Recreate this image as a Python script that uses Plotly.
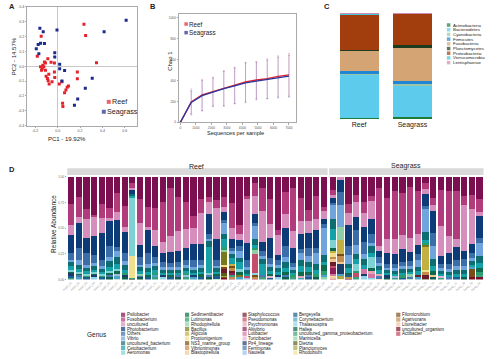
import plotly.graph_objects as go

W, H = 500, 359
def PX(x): return x / W
def PY(y): return 1 - y / H

FONT = "Liberation Sans, Arial, sans-serif"
TXT = "#222222"
RED = "#e3232b"
NAVY = "#1c2a8c"

# ---------------- Panel A: PCoA ----------------
reef_pc1 = [0.235, 0.25, -0.147, -0.182, -0.088, -0.118, -0.059, -0.029, -0.153, -0.138, -0.144,
            -0.124, -0.109, -0.103, -0.091, -0.085, -0.076, -0.05, -0.029, -0.026, 0.015, 0.038,
            0.085, 0.097, 0.074, 0.062, 0.044, 0.047, 0.176, 0.176, 0.347, -0.132, -0.109, -0.079]
reef_pc2 = [0.284, 0.207, 0.202, 0.067, 0.051, 0.029, 0.027, 0.022, -0.004, -0.016, -0.027,
            -0.004, -0.027, -0.067, -0.082, -0.098, -0.12, -0.104, -0.038, -0.076, -0.12, -0.104,
            -0.142, -0.133, -0.16, -0.178, -0.249, -0.271, -0.038, -0.084, 0.024, 0.007, 0.022, -0.053]
sea_pc1 = [-0.159, -0.129, -0.006, -0.118, -0.153, -0.174, -0.191, -0.168, -0.026, -0.026,
           0.018, 0.018, 0.062, 0.038, 0.247, 0.309, 0.179, 0.15, 0.415, 0.612]
sea_pc2 = [0.256, 0.233, 0.244, 0.153, 0.156, 0.147, 0.118, 0.084, 0.091, 0.062,
           0.013, -0.016, -0.029, -0.100, -0.149, -0.080, -0.22, -0.262, 0.233, 0.311]
pc_ticks = [-0.2, 0.0, 0.2, 0.4, 0.6]
pc2_ticks = [-0.4, -0.3, -0.2, -0.1, 0.0, 0.1, 0.2, 0.3, 0.4]

# ---------------- Panel B: rarefaction ----------------
depth = [0, 700, 1400, 2100, 2800, 3500, 4200, 4900, 5600, 6300, 7000]
reef_chao = [0, 195, 262, 292, 325, 352, 388, 405, 418, 440, 455]
sea_chao = [0, 190, 255, 290, 322, 350, 378, 395, 410, 428, 442]
reef_sd = [0, 125, 150, 140, 170, 175, 187, 176, 190, 196, 205]
sea_sd = [0, 110, 145, 135, 165, 170, 190, 180, 185, 195, 200]

# ---------------- Panel C: phyla ----------------
groups = ["Reef", "Seagrass"]
phyla = ["Actinobacteria", "Bacteroidetes", "Cyanobacteria", "Firmicutes", "Fusobacteria",
         "Planctomycetes", "Proteobacteria", "Verrucomicrobia", "Lentisphaerae"]
phyla_colors = ["#1e7b3a", "#5ccbec", "#9cc4a6", "#1f86d6", "#d4a475", "#1d3c1f",
                "#a23d0e", "#41c7d9", "#cd8fb1"]
reef_phyla = [1.0, 40.8, 0.3, 3.1, 19.5, 0.3, 34.0, 0.9, 0.1]
sea_phyla = [1.5, 30.3, 1.2, 2.5, 31.6, 2.5, 29.7, 0.6, 0.1]

# ---------------- Panel D: genera ----------------
reef_samples = ["Reef_%02d" % i for i in range(1, 35)]
sea_samples = ["Seag_%02d" % i for i in range(1, 21)]

genera = ["Psilobacter", "Fusobacterium", "uncultured", "Photobacterium", "Others", "Vibrio",
          "uncultured_bacterium", "Cetobacterium", "Aeromonas",
          "Sedimentibacter", "Lutimonas", "Rhodopirellula", "Bacillus", "Algicola",
          "Propionigenium", "NS3_marine_group", "Vibrionimonas", "Blastopirellula",
          "Staphylococcus", "Pseudomonas", "Psychromonas", "Aliivibrio", "Lutibacter",
          "Turicibacter", "Pir4_lineage", "Ferrimonas", "Nautella",
          "Bergeyella", "Corynebacterium", "Thalassospira", "Haliea",
          "uncultured_gamma_proteobacterium", "Marinicella", "Dietzia", "Planctomyces", "Rhodobium",
          "Filomicrobium", "Agarivorans", "Litoreibacter", "uncultured_organism", "Actibacter"]
genus_colors = ["#7b0f50", "#b23b7c", "#d68ebd", "#0d3b78", "#3b6ea8", "#6fa5dc", "#0e6d70",
                "#16a0a8", "#7ed2d4",
                "#10694a", "#2a9d6e", "#8dd0a6", "#777a1a", "#c2b042", "#f0e08e", "#7a4b12",
                "#c48b4a", "#f2c994",
                "#6b1b2c", "#c44d6b", "#e6a4b6", "#8e1e57", "#d375a2", "#e4b4d4", "#1b3c6b",
                "#4a79b1", "#9cbce2",
                "#1b5d8d", "#4ba4c6", "#8fd4e6", "#0c5d4d", "#3b9f7f", "#90d1a6", "#5c5d1b",
                "#a9a946", "#f1e496",
                "#7b4d1b", "#c18d4d", "#f4c4a4", "#7b1025", "#c34460"]

# major genera, 34 reef samples followed by 20 seagrass samples (percent)
psilobacter = [27, 19, 30, 37, 26, 30, 16, 28, 6, 21, 29, 30, 24, 11, 19, 24, 37, 21, 19, 22, 21, 27,
               45, 18, 6, 10, 21, 50, 14, 11, 19, 30, 18, 29,
               13, 0, 24, 16, 24, 21, 11, 21, 14, 16, 10, 13, 6, 18, 13, 13, 13, 18, 18, 21]
fusobacterium = [20, 19, 10, 2, 14, 10, 18, 20, 5, 24, 18, 21, 38, 45, 32, 26, 11, 14, 5, 8, 10, 26,
                 8, 3, 14, 22, 24, 5, 21, 40, 21, 10, 21, 3,
                 5, 0, 8, 6, 10, 5, 54, 40, 46, 42, 50, 40, 6, 6, 35, 43, 45, 8, 13, 13]
uncultured = [10, 6, 18, 18, 14, 3, 8, 5, 2, 21, 3, 16, 10, 16, 19, 19, 15, 30, 11, 30, 6, 11,
              5, 40, 18, 28, 13, 19, 13, 16, 12, 11, 10, 8,
              3, 3, 11, 14, 13, 19, 5, 13, 14, 14, 14, 10, 5, 5, 29, 16, 8, 43, 34, 3]
photobacterium = [18, 24, 14, 18, 26, 24, 26, 20, 4, 11, 22, 10, 8, 10, 10, 11, 16, 15, 18, 20, 8, 9,
                  6, 16, 10, 9, 19, 5, 17, 14, 13, 13, 16, 5,
                  5, 11, 18, 11, 14, 16, 6, 11, 10, 13, 9, 8, 11, 19, 8, 10, 12, 8, 8, 21]
others = [7, 11, 11, 8, 6, 10, 4, 8, 0, 8, 10, 6, 5, 4, 5, 5, 6, 5, 5, 6, 2, 4,
          5, 6, 3, 4, 6, 4, 10, 4, 4, 8, 5, 3,
          2, 13, 8, 13, 11, 10, 5, 4, 4, 4, 5, 6, 3, 11, 4, 5, 5, 6, 5, 5]
vibrio = [2, 5, 3, 3, 3, 4, 6, 4, 0, 2, 4, 3, 3, 3, 3, 3, 3, 3, 2, 2, 13, 3,
          6, 3, 13, 3, 3, 3, 5, 3, 6, 5, 10, 26,
          14, 20, 8, 8, 5, 3, 3, 2, 3, 3, 3, 6, 22, 11, 3, 3, 4, 4, 3, 13]
uncultured_bacterium = [4, 4, 3, 4, 3, 6, 7, 5, 2, 4, 4, 4, 3, 3, 3, 3, 3, 4, 6, 4, 5, 4,
                        4, 4, 6, 5, 4, 4, 5, 3, 6, 5, 5, 6,
                        10, 0, 4, 5, 5, 8, 4, 3, 3, 3, 3, 4, 8, 6, 3, 3, 4, 4, 4, 6]
cetobacterium = [4, 3, 3, 2, 2, 4, 5, 3, 1, 3, 3, 3, 2, 2, 2, 2, 2, 2, 24, 2, 8, 6,
                 6, 2, 3, 10, 3, 3, 4, 2, 5, 4, 4, 3,
                 11, 0, 4, 4, 4, 4, 4, 2, 2, 2, 2, 4, 3, 5, 2, 2, 3, 3, 2, 5]
aeromonas = [1, 1, 1, 1, 1, 1, 2, 0, 58, 0, 0, 0, 0, 0, 0, 0, 0, 0, 2, 0, 0, 0,
             3, 0, 0, 0, 0, 0, 0, 0, 0, 0, 0, 0,
             8, 0, 0, 6, 0, 12, 0, 0, 0, 0, 0, 0, 0, 0, 0, 0, 0, 0, 0, 0]
major_values = [psilobacter, fusobacterium, uncultured, photobacterium, others, vibrio,
                uncultured_bacterium, cetobacterium, aeromonas]

# minor genera: sample index -> percent (reef 0-33, seagrass 34-53)
sedimentibacter = {0: 2, 1: 2, 3: 2, 5: 3, 6: 3, 10: 2, 13: 2, 17: 3, 19: 2, 22: 3, 26: 2, 28: 3,
                   30: 4, 31: 3, 33: 6, 34: 3, 36: 2, 39: 3, 47: 3, 53: 4}
lutimonas = {2: 2, 4: 2, 7: 2, 11: 2, 15: 2, 20: 3, 24: 2, 29: 2, 32: 3, 33: 4, 37: 2, 43: 3,
             46: 2, 53: 3}
rhodopirellula = {24: 5, 35: 13, 20: 2, 44: 2, 9: 1}
bacillus = {20: 14, 22: 2, 46: 2}
algicola = {35: 13, 46: 22, 21: 1, 34: 2}
propionigenium = {8: 22, 34: 4, 20: 1, 46: 1}
ns3_marine_group = {20: 2, 21: 3, 35: 1}
vibrionimonas = {35: 6, 46: 4, 21: 2, 34: 2}
blastopirellula = {34: 3, 35: 2, 47: 2}
staphylococcus = {20: 5, 21: 2, 34: 4, 46: 3, 45: 2}
pseudomonas = {24: 19, 23: 1, 37: 4, 34: 2}
psychromonas = {39: 3, 40: 2, 30: 1}
aliivibrio = {34: 6, 21: 2}
lutibacter = {34: 2, 38: 5, 39: 4}
turicibacter = {21: 1, 26: 1, 48: 1}
pir4_lineage = {35: 10, 0: 2, 3: 2, 7: 2, 12: 2, 16: 2, 27: 2, 38: 2, 41: 2}
ferrimonas = {1: 2, 5: 2, 9: 2, 14: 2, 18: 2, 25: 2, 28: 2, 31: 2, 40: 2, 44: 2, 49: 2}
nautella = {6: 2, 15: 2, 23: 2, 42: 1}
bergeyella = {0: 2, 2: 2, 4: 2, 10: 2, 13: 2, 17: 2, 19: 2, 26: 2, 31: 2, 36: 2, 43: 2, 50: 2}
corynebacterium = {1: 2, 6: 2, 11: 2, 16: 2, 22: 2, 30: 2, 33: 2, 35: 2, 45: 2, 52: 2}
thalassospira = {3: 2, 12: 2, 24: 2, 39: 2, 38: 3, 27: 2}
haliea = {5: 2, 7: 2, 9: 2, 14: 2, 18: 2, 28: 2, 32: 2, 41: 2, 47: 2, 51: 2}
uncultured_gamma = {0: 2, 8: 1, 11: 2, 15: 2, 21: 2, 25: 2, 29: 2, 37: 2, 42: 2, 48: 2, 53: 2}
marinicella = {6: 1, 19: 1, 33: 2, 44: 1}
dietzia = {20: 2, 46: 1}
planctomyces = {20: 2, 35: 2}
rhodobium = {34: 1, 35: 1}
filomicrobium = {52: 8, 20: 1, 24: 2}
agarivorans = {21: 2, 24: 2, 36: 1}
litoreibacter = {34: 2, 40: 1}
uncultured_organism = {8: 0.5, 20: 2, 36: 1, 52: 2, 53: 2}
actibacter = {24: 1, 34: 1, 21: 1}
minor_values = [sedimentibacter, lutimonas, rhodopirellula, bacillus, algicola, propionigenium,
                ns3_marine_group, vibrionimonas, blastopirellula, staphylococcus, pseudomonas,
                psychromonas, aliivibrio, lutibacter, turicibacter, pir4_lineage, ferrimonas,
                nautella, bergeyella, corynebacterium, thalassospira, haliea, uncultured_gamma,
                marinicella, dietzia, planctomyces, rhodobium, filomicrobium, agarivorans,
                litoreibacter, uncultured_organism, actibacter]

n_samples = len(reef_samples) + len(sea_samples)
table = [list(v) for v in major_values] + [[d.get(i, 0) for i in range(n_samples)] for d in minor_values]
totals = [sum(row[i] for row in table) for i in range(n_samples)]
rel = [[row[i] / totals[i] for i in range(n_samples)] for row in table]

fig = go.Figure()

# ---- A ----
fig.add_trace(go.Scatter(x=reef_pc1, y=reef_pc2, mode="markers", xaxis="x", yaxis="y",
                         marker=dict(symbol="square", size=3, color=RED), showlegend=False))
fig.add_trace(go.Scatter(x=sea_pc1, y=sea_pc2, mode="markers", xaxis="x", yaxis="y",
                         marker=dict(symbol="square", size=3, color=NAVY), showlegend=False))

# ---- B ----
fig.add_trace(go.Scatter(x=depth, y=reef_chao, mode="lines", xaxis="x2", yaxis="y2",
                         line=dict(color=RED, width=1.3),
                         error_y=dict(type="data", array=reef_sd, color="rgba(235,90,110,0.4)",
                                      thickness=0.8, width=1), showlegend=False))
fig.add_trace(go.Scatter(x=depth, y=sea_chao, mode="lines", xaxis="x2", yaxis="y2",
                         line=dict(color="#2b36a0", width=1.3),
                         error_y=dict(type="data", array=sea_sd, color="rgba(70,70,180,0.4)",
                                      thickness=0.8, width=1), showlegend=False))

# ---- C ----
for name, col, rv, sv in zip(phyla, phyla_colors, reef_phyla, sea_phyla):
    fig.add_trace(go.Bar(x=groups, y=[rv, sv], xaxis="x3", yaxis="y3", width=0.735,
                         marker=dict(color=col, line=dict(width=0)), name=name, showlegend=False))

# ---- D ----
nr = len(reef_samples)
for gi in range(len(genera) - 1, -1, -1):
    fig.add_trace(go.Bar(x=reef_samples, y=rel[gi][:nr], xaxis="x4", yaxis="y4", width=0.82,
                         marker=dict(color=genus_colors[gi], line=dict(width=0)),
                         name=genera[gi], showlegend=False))
    fig.add_trace(go.Bar(x=sea_samples, y=rel[gi][nr:], xaxis="x5", yaxis="y5", width=0.82,
                         marker=dict(color=genus_colors[gi], line=dict(width=0)),
                         name=genera[gi], showlegend=False))

# ---- legend glyphs on a pixel overlay axis ----
ann = []
def text(x, y, s, size=5.5, anchor="left", angle=0, bold=False, color=TXT):
    ann.append(dict(x=PX(x), y=PY(y), xref="paper", yref="paper", text=("<b>%s</b>" % s) if bold else s,
                    showarrow=False, xanchor=anchor, yanchor="middle", textangle=angle, borderpad=0,
                    font=dict(size=size, color=color, family=FONT)))

lx, ly, lc, ls = [], [], [], []
def swatch(x, y, c, s):
    lx.append(x); ly.append(y); lc.append(c); ls.append(s)

# A legend
swatch(104, 101, RED, 4); text(106.5, 101, "Reef", 7.2)
swatch(99, 111, NAVY, 4); text(101.5, 111, "Seagrass", 7.2)
# B legend
swatch(182.3, 22.3, RED, 3.5); text(184, 22.3, "Reef", 6.3)
swatch(182.3, 31, NAVY, 3.5); text(184, 31, "Seagrass", 6.3)
# C legend
for i, (name, col) in enumerate(zip(phyla, phyla_colors)):
    y = 23.3 + 4.75 * i
    swatch(448, y, col, 3.5); text(451.5, y, name, 4.4)
# D legend
col_x = [118.5, 183.3, 241.5, 292.8, 397]
for gi, (name, col) in enumerate(zip(genera, genus_colors)):
    c, r = divmod(gi, 9)
    y = 316.3 + 4.8 * r
    swatch(col_x[c], y, col, 4.2); text(col_x[c] + 2.6, y, name, 4.5)

fig.add_trace(go.Scatter(x=lx, y=ly, mode="markers", xaxis="x6", yaxis="y6", hoverinfo="skip",
                         marker=dict(symbol="square", size=ls, color=lc, line=dict(width=0)),
                         showlegend=False))

# panel labels and titles
text(2, 5, "A", 7.5, bold=True)
text(145, 4.5, "B", 7.5, bold=True)
text(321, 5, "C", 7.5, bold=True)
text(2, 169, "D", 7.5, bold=True)
text(62, 138.5, "PC1 - 19.92%", 6, anchor="center")
text(8, 55, "PC2 - 14.57%", 6, anchor="center", angle=-90)
text(232, 132.5, "Sequences per sample", 5.6, anchor="center")
text(166.5, 60, "Chao 1", 6, anchor="center", angle=-90)
text(193, 166, "Reef", 7, anchor="center")
text(405, 165.5, "Seagrass", 7, anchor="center")
text(48, 224, "Relative Abundance", 6.5, anchor="center", angle=-90)
text(92.5, 336, "Genus", 6.5, anchor="center")

shapes = [
    dict(type="rect", xref="paper", yref="paper", x0=PX(62), x1=PX(325.5), y0=PY(175), y1=PY(168),
         fillcolor="#d9d9d9", line=dict(width=0), layer="below"),
    dict(type="rect", xref="paper", yref="paper", x0=PX(327), x1=PX(483.3), y0=PY(175), y1=PY(168),
         fillcolor="#d9d9d9", line=dict(width=0), layer="below"),
]

tickf = dict(size=3.6, color="#555555", family=FONT)
frame = dict(showline=True, linecolor="#aaaaaa", linewidth=0.7, mirror=True, showgrid=False,
             ticks="outside", ticklen=1.5, tickcolor="#aaaaaa", tickwidth=0.5)

fig.update_layout(
    width=W, height=H, margin=dict(l=0, r=0, t=0, b=0),
    paper_bgcolor="white", plot_bgcolor="rgba(0,0,0,0)",
    barmode="stack", showlegend=False, annotations=ann, shapes=shapes,
    font=dict(family=FONT, color=TXT),
    xaxis=dict(domain=[PX(21.7), PX(132.7)], range=[-0.27, 0.71], tickvals=pc_ticks,
               ticktext=["-0.2", "0.0", "0.2", "0.4", "0.6"], tickfont=tickf,
               zeroline=True, zerolinecolor="#c8c8c8", zerolinewidth=0.8, anchor="y", **frame),
    yaxis=dict(domain=[PY(125), PY(5)], range=[-0.4, 0.4], tickvals=pc2_ticks,
               ticktext=["-0.4", "-0.3", "-0.2", "-0.1", "0.0", "0.1", "0.2", "0.3", "0.4"],
               tickfont=tickf, zeroline=True, zerolinecolor="#c8c8c8", zerolinewidth=0.8,
               anchor="x", **frame),
    xaxis2=dict(domain=[PX(175), PX(293.3)], range=[-95, 7440], tickvals=[0, 1000, 2000, 3000, 4000, 5000, 6000, 7000],
                tickfont=dict(size=3.2, color="#555555", family=FONT), zeroline=False, anchor="y2", **frame),
    yaxis2=dict(domain=[PY(121.7), PY(12.3)], range=[0, 1035], tickvals=[0, 200, 400, 600, 800, 1000],
                tickfont=dict(size=3.2, color="#555555", family=FONT), zeroline=False, anchor="x2", **frame),
    xaxis3=dict(domain=[PX(330.5), PX(438.3)], range=[-0.5, 1.5], showline=False, showgrid=False,
                zeroline=False, ticks="", tickfont=dict(size=7, color=TXT, family=FONT), anchor="y3"),
    yaxis3=dict(domain=[PY(118.3), PY(10.7)], range=[0, 100], visible=False, anchor="x3"),
    xaxis4=dict(domain=[PX(62), PX(325.5)], range=[-0.5, 33.5], showline=False, showgrid=False,
                zeroline=False, ticks="", tickangle=-45,
                tickfont=dict(size=3, color="#9a9a9a", family=FONT), anchor="y4"),
    yaxis4=dict(domain=[PY(280.7), PY(176.7)], range=[0, 1], tickvals=[0, 0.25, 0.5, 0.75, 1.0],
                ticktext=["0.00", "0.25", "0.50", "0.75", "1.00"], showline=False, showgrid=False,
                zeroline=False, ticks="outside", ticklen=1.5, tickcolor="#aaaaaa", tickwidth=0.5,
                tickfont=dict(size=3, color="#666666", family=FONT), anchor="x4"),
    xaxis5=dict(domain=[PX(327), PX(483.3)], range=[-0.5, 19.5], showline=False, showgrid=False,
                zeroline=False, ticks="", tickangle=-45,
                tickfont=dict(size=3, color="#9a9a9a", family=FONT), anchor="y5"),
    yaxis5=dict(domain=[PY(280.7), PY(176.7)], range=[0, 1], visible=False, anchor="x5"),
    xaxis6=dict(domain=[0, 1], range=[0, W], visible=False, anchor="y6", fixedrange=True),
    yaxis6=dict(domain=[0, 1], range=[H, 0], visible=False, anchor="x6", fixedrange=True),
)

fig.write_html("out.html", config=dict(displayModeBar=False),
               post_script="document.body.style.margin='0';")
